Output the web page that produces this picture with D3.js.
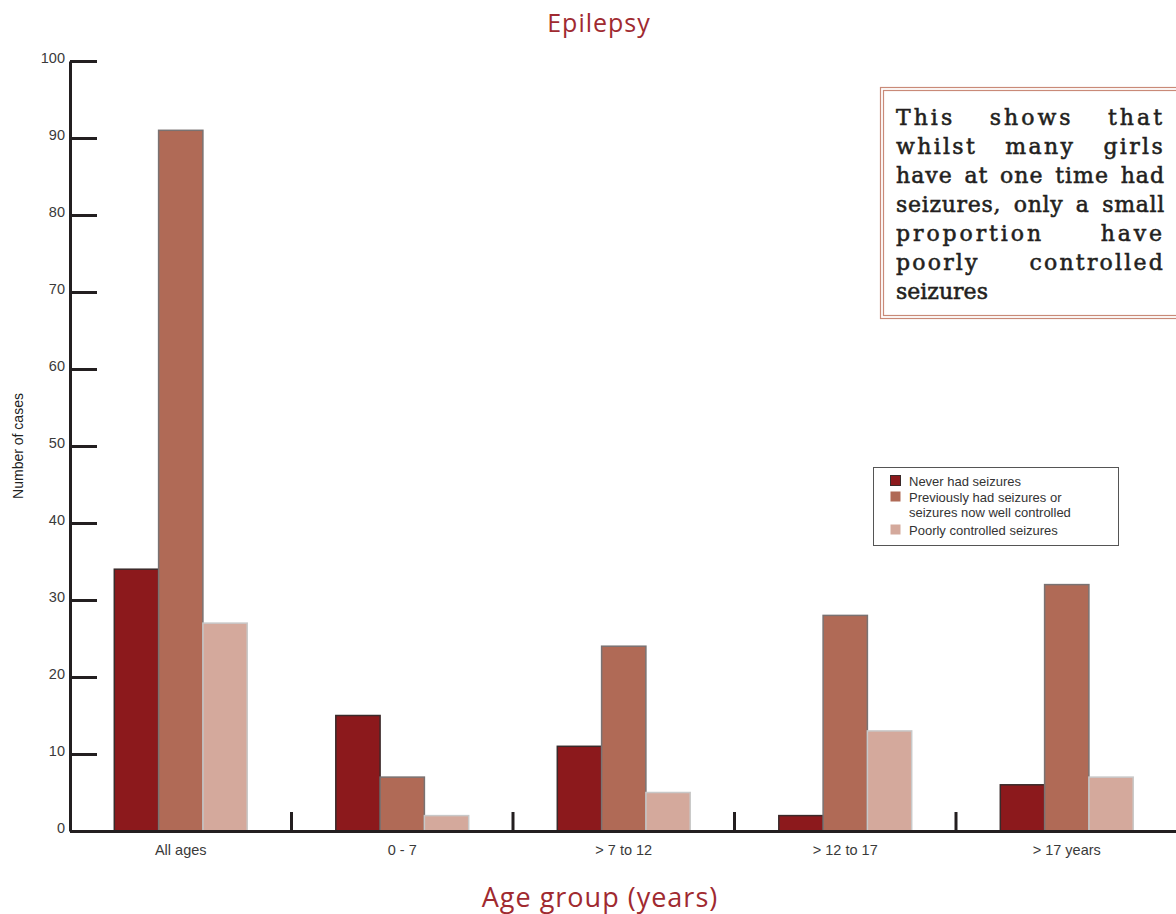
<!DOCTYPE html>
<html>
<head>
<meta charset="utf-8">
<script src="https://cdn.jsdelivr.net/npm/d3@7"></script>
<style>
  html, body { margin: 0; padding: 0; background: #fff; }
  svg { display: block; }
</style>
</head>
<body>
<svg id="chart" width="1176" height="914"></svg>
<script>
// Age groups and the three seizure-status series
const categories = ["All ages", "0 - 7", "> 7 to 12", "> 12 to 17", "> 17 years"];
const seriesNames = ["Never had seizures", "Previously had seizures or\nseizures now well controlled", "Poorly controlled seizures"];
const neverHad = [34, 15, 11, 2, 6];
const wellControlled = [91, 7, 24, 28, 32];
const poorlyControlled = [27, 2, 5, 13, 7];
const yTicks = [0, 10, 20, 30, 40, 50, 60, 70, 80, 90, 100];
const noteLines = [
  "This shows that",
  "whilst many girls",
  "have at one time had",
  "seizures, only a small",
  "proportion have",
  "poorly controlled",
  "seizures"
];

const seriesValues = [neverHad, wellControlled, poorlyControlled];
const fills = ["#8c191c", "#b06a56", "#d4a99c"];
const strokes = ["#3a2a2a", "#7a7272", "#c8c8c8"];

const svg = d3.select("#chart");
const plotLeft = 70, plotRight = 1177.5, plotTop = 61, plotBottom = 831;

const x = d3.scaleBand().domain(categories).range([plotLeft, plotRight]).paddingInner(0).paddingOuter(0);
const xInner = d3.scaleBand().domain(d3.range(3)).range([0, x.bandwidth()]).paddingOuter(1.0).paddingInner(0);
const y = d3.scaleLinear().domain([0, 100]).range([plotBottom, plotTop]);

// Bars
const groups = svg.append("g").selectAll("g")
  .data(categories)
  .join("g")
  .attr("transform", c => `translate(${x(c)},0)`);

groups.selectAll("rect")
  .data((c, i) => seriesValues.map((s, k) => ({ k, v: s[i] })))
  .join("rect")
  .attr("x", d => xInner(d.k))
  .attr("width", xInner.bandwidth())
  .attr("y", d => y(d.v))
  .attr("height", d => y(0) - y(d.v))
  .attr("fill", d => fills[d.k])
  .attr("stroke", d => strokes[d.k])
  .attr("stroke-width", 1.5);

// Y axis: ticks point inward, labels on the left
const yAxis = d3.axisLeft(y).tickValues(yTicks).tickSizeInner(-27).tickSizeOuter(0).tickPadding(5);
const yg = svg.append("g").attr("transform", `translate(${plotLeft},0)`).call(yAxis);
yg.select(".domain").attr("stroke", "#231f20").attr("stroke-width", 3);
yg.selectAll(".tick line").attr("stroke", "#231f20").attr("stroke-width", 3);
yg.selectAll(".tick text")
  .attr("font-family", "'Liberation Sans', Arial, sans-serif")
  .attr("font-size", 14.5)
  .attr("fill", "#3a3a3a")
  .attr("dy", "0.1em");

// X axis baseline and category labels
const xAxis = d3.axisBottom(x).tickSize(0).tickPadding(14);
const xg = svg.append("g").attr("transform", `translate(0,${plotBottom})`).call(xAxis);
xg.select(".domain").attr("stroke", "#231f20").attr("stroke-width", 3);
xg.selectAll(".tick text")
  .attr("font-family", "'Liberation Sans', Arial, sans-serif")
  .attr("font-size", 14.5)
  .attr("fill", "#3a3a3a");

// Separator ticks between age groups
svg.append("g").selectAll("line")
  .data(categories.slice(1))
  .join("line")
  .attr("x1", c => x(c)).attr("x2", c => x(c))
  .attr("y1", plotBottom).attr("y2", plotBottom - 19)
  .attr("stroke", "#231f20").attr("stroke-width", 3);

// Titles
svg.append("text")
  .attr("x", 599).attr("y", 32)
  .attr("text-anchor", "middle")
  .attr("font-family", "'Open Sans', sans-serif")
  .attr("font-size", 25)
  .attr("letter-spacing", 1)
  .attr("fill", "#a02a30")
  .text("Epilepsy");

svg.append("text")
  .attr("x", 600).attr("y", 907)
  .attr("text-anchor", "middle")
  .attr("font-family", "'Open Sans', sans-serif")
  .attr("font-size", 27)
  .attr("letter-spacing", 1)
  .attr("fill", "#a02a30")
  .text("Age group (years)");

svg.append("text")
  .attr("transform", "translate(23,446) rotate(-90)")
  .attr("text-anchor", "middle")
  .attr("font-family", "'Liberation Sans', Arial, sans-serif")
  .attr("font-size", 14)
  .attr("fill", "#222")
  .text("Number of cases");

// Note box with double border
const note = svg.append("g");
note.append("rect").attr("x", 880.5).attr("y", 87.5).attr("width", 300).attr("height", 231)
  .attr("fill", "#fff").attr("stroke", "#c98a78").attr("stroke-width", 1.2);
note.append("rect").attr("x", 883.5).attr("y", 90.5).attr("width", 300).attr("height", 225)
  .attr("fill", "none").attr("stroke", "#c98a78").attr("stroke-width", 1.2);

// Justified paragraph: spare room goes partly to letter spacing, the rest to word gaps
const noteLeft = 896, noteRight = 1165, noteTop = 125, lineH = 29;
noteLines.forEach((line, i) => {
  const words = line.split(" ");
  const yy = noteTop + i * lineH;
  const isLast = i === noteLines.length - 1;
  const txt = note.append("text")
    .attr("y", yy)
    .attr("font-family", "'DejaVu Serif', serif")
    .attr("font-size", 22)
    .attr("fill", "#231f20")
    .attr("stroke", "#231f20").attr("stroke-width", 0.55);
  const spans = words.map(w => txt.append("tspan").text(w));
  let widths = spans.map(s => s.node().getComputedTextLength());
  const baseGap = 7;
  if (!isLast && words.length > 1) {
    const extra = (noteRight - noteLeft) - d3.sum(widths) - baseGap * (words.length - 1);
    const nChars = d3.sum(words, w => w.length);
    const ls = Math.max(0, Math.min(3, extra * 0.45 / nChars));
    txt.attr("letter-spacing", ls);
    widths = spans.map(s => s.node().getComputedTextLength());
  }
  const total = d3.sum(widths);
  const gap = isLast || words.length < 2 ? baseGap : (noteRight - noteLeft - total) / (words.length - 1);
  let cx = noteLeft;
  spans.forEach((s, k) => { s.attr("x", cx); cx += widths[k] + gap; });
});

// Legend
const legend = svg.append("g");
legend.append("rect").attr("x", 873.5).attr("y", 467.5).attr("width", 245).attr("height", 78)
  .attr("fill", "#fff").attr("stroke", "#555").attr("stroke-width", 1);
const legendRows = [482, 498, 531];
seriesNames.forEach((name, k) => {
  const yy = legendRows[k];
  legend.append("rect").attr("x", 890.5).attr("y", yy - 6.5).attr("width", 10).attr("height", 10)
    .attr("fill", fills[k]).attr("stroke", k === 0 ? "#3a2a2a" : "none");
  const t = legend.append("text")
    .attr("y", yy + 4)
    .attr("font-family", "'Liberation Sans', Arial, sans-serif")
    .attr("font-size", 13)
    .attr("fill", "#333");
  name.split("\n").forEach((ln, j) => {
    t.append("tspan").attr("x", 909).attr("dy", j === 0 ? 0 : 14.5).text(ln);
  });
});
</script>
</body>
</html>
